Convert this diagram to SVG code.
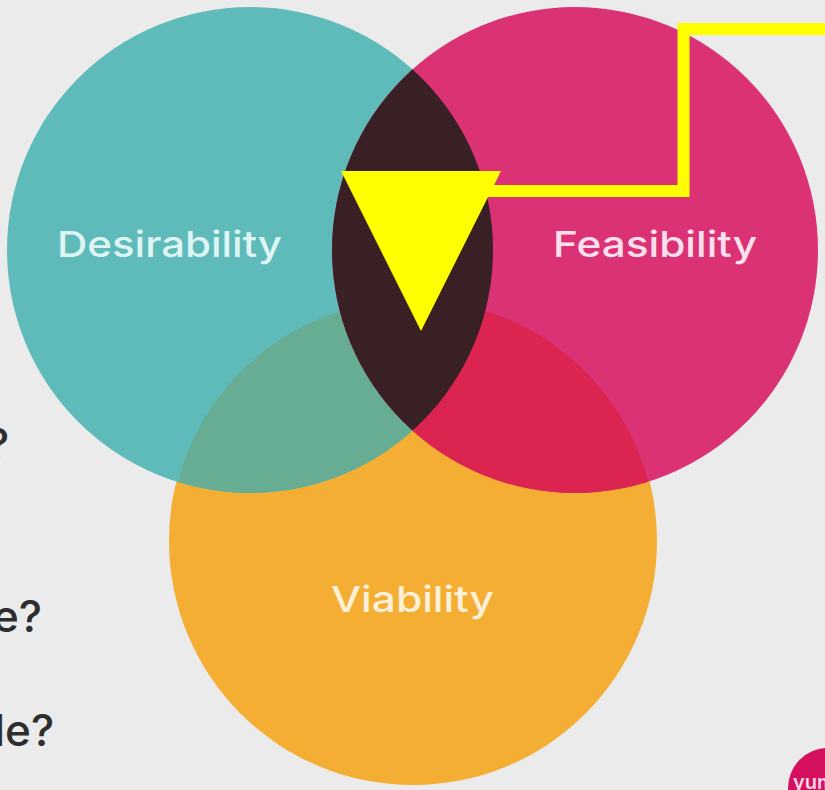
<svg xmlns="http://www.w3.org/2000/svg" width="825" height="790" viewBox="0 0 825 790">
<style>
.l{font-family:"Inter","Open Sans",sans-serif;font-size:36px;font-weight:500}
.q{font-family:"Inter","Open Sans",sans-serif;font-size:44px;font-weight:500;fill:#2e2e2e}
</style>
<rect width="825" height="790" fill="#ebebeb"/>
<g id="side-text">
<text class="q" x="-14" y="460">?</text>
<text class="q" x="-7" y="632">e?</text>
<text class="q" x="-6" y="746">le?</text>
</g>
<g id="logo">
<circle cx="828" cy="788" r="40" fill="#d5115f"/>
<text x="793" y="789" font-family="Inter,sans-serif" font-size="20" font-weight="600" fill="#fbd6e4">yum</text>
</g>
<g id="viability"><circle cx="413" cy="541" r="244" fill="#f4ae33"/></g>
<g id="desirability"><circle cx="250" cy="250" r="243" fill="#5fbbba"/></g>
<g id="feasibility"><circle cx="575" cy="250" r="243" fill="#da3275"/></g>
<clipPath id="cd"><circle cx="250" cy="250" r="243"/></clipPath>
<clipPath id="cf"><circle cx="575" cy="250" r="243"/></clipPath>
<circle cx="413" cy="543" r="243" fill="#66ad94" clip-path="url(#cd)"/>
<circle cx="413" cy="543" r="243" fill="#dc2450" clip-path="url(#cf)"/>
<g clip-path="url(#cd)"><circle cx="575" cy="250" r="243" fill="#382024"/></g>
<text class="l" x="57" y="257" textLength="225" lengthAdjust="spacingAndGlyphs" fill="#def5f3">Desirability</text>
<text class="l" x="553" y="257" textLength="204" lengthAdjust="spacingAndGlyphs" fill="#fbe0ec">Feasibility</text>
<text class="l" x="331" y="612" textLength="163" lengthAdjust="spacingAndGlyphs" fill="#fdf0d8">Viability</text>
<g id="connectors">
<path d="M825 29H683.5V191H480" fill="none" stroke="#ffff00" stroke-width="12" stroke-linejoin="miter"/>
<polygon points="341,171 501,171 421,331" fill="#ffff00"/>
</g>
</svg>
